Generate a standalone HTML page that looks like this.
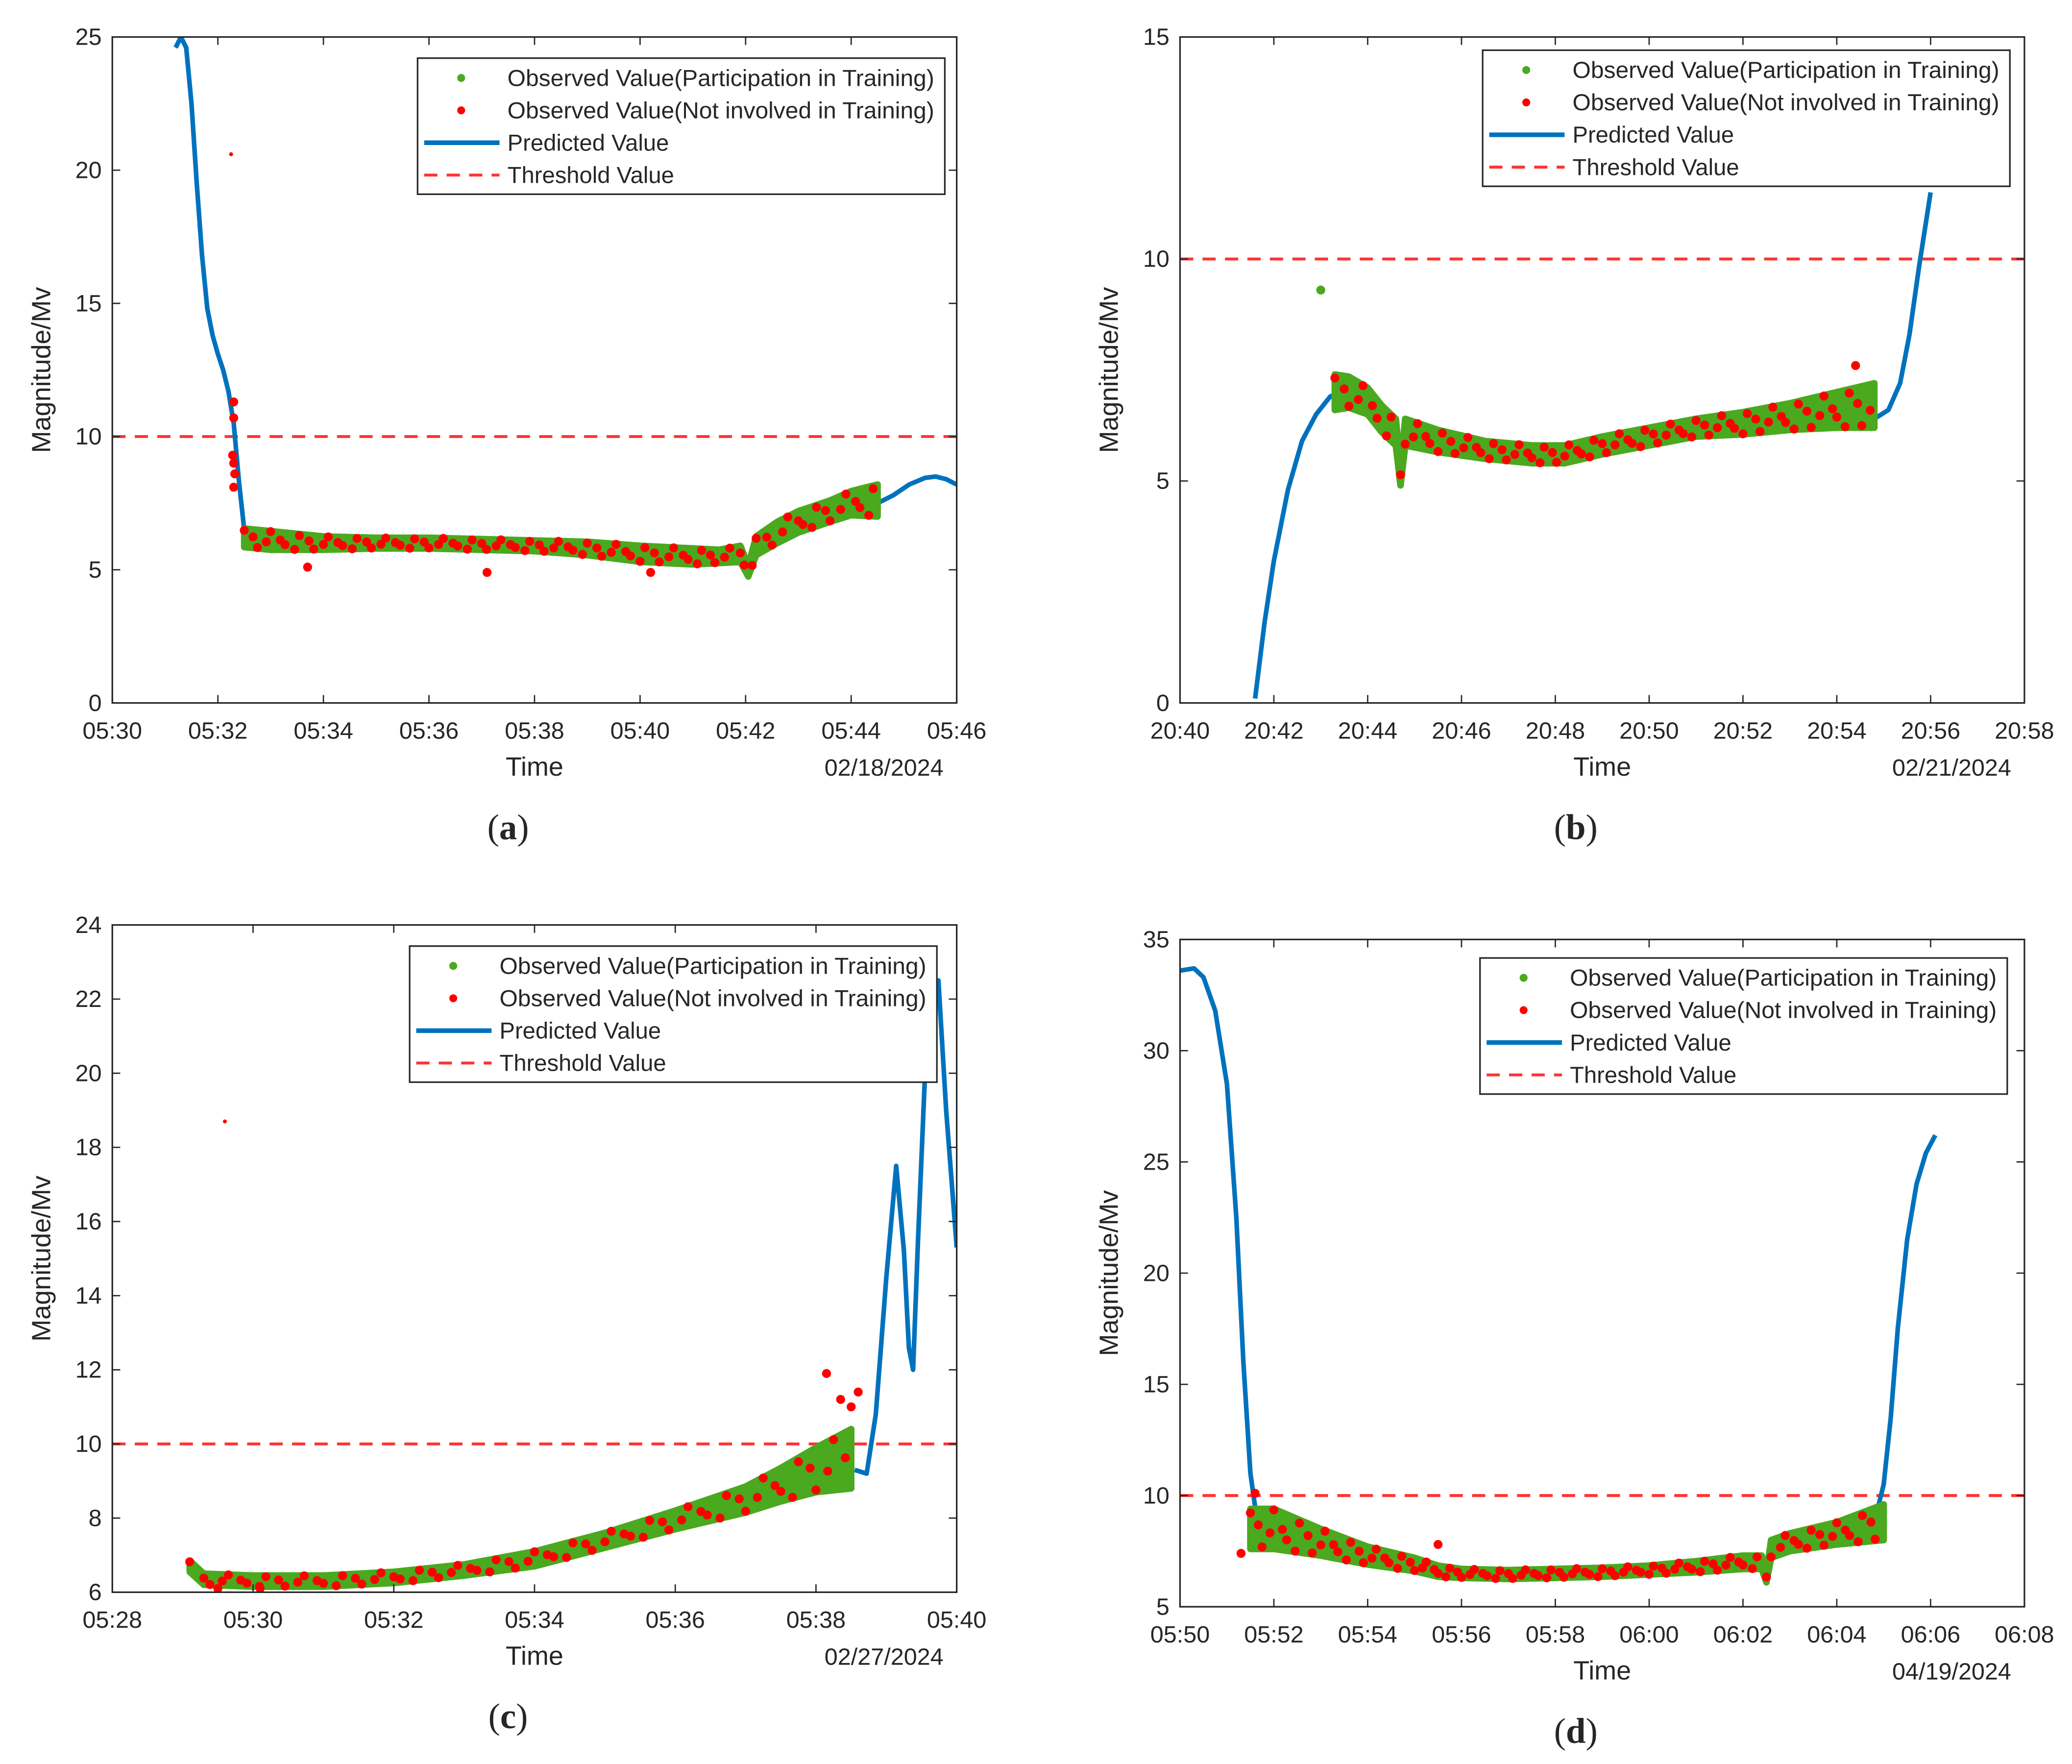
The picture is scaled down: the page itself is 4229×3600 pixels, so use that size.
<!DOCTYPE html>
<html><head><meta charset="utf-8"><style>
html,body{margin:0;padding:0;background:#fff;}
svg{display:block;}
text{font-family:"Liberation Sans",sans-serif;fill:#262626;}
</style></head>
<body>
<svg id="fig" width="4229" height="3600" viewBox="0 0 1568 1335" preserveAspectRatio="none" xmlns="http://www.w3.org/2000/svg"></svg>
<script>
// ---------- DATA ----------
// Panel (a)
const aYTicks=[0,5,10,15,20,25];
const aXTickLabels=["05:30","05:32","05:34","05:36","05:38","05:40","05:42","05:44","05:46"];
const aPredT=[1.2,1.3,1.4,1.5,1.6,1.7,1.8,1.9,2.0,2.1,2.2,2.3,2.4,2.5,2.6];
const aPredV=[24.6,25,24.6,22.5,19.5,16.8,14.8,13.8,13.1,12.5,11.7,10.5,8.3,6.5,6.0];
const aPred2T=[14.5,14.8,15.1,15.4,15.6,15.8,16.0];
const aPred2V=[7.5,7.8,8.2,8.45,8.5,8.4,8.2];
const aObsT=[2.5,3,4,5,6,7,8,9,10,11,11.5,11.9,12.05,12.2,12.6,13,13.6,14,14.5];
const aObsV=[6.2,6.1,6.0,6.0,6.0,5.95,5.9,5.8,5.6,5.5,5.5,5.6,4.95,5.9,6.4,6.8,7.2,7.5,7.6];
const aObsW=[0.35,0.35,0.25,0.2,0.2,0.2,0.2,0.25,0.3,0.3,0.25,0.3,0.2,0.35,0.4,0.4,0.4,0.45,0.6];
const aOutT=[2.25,3.7,7.1,10.2,2.3,2.3,2.3,2.32,2.28,2.3];
const aOutV=[20.6,5.1,4.9,4.9,11.3,8.1,9.0,8.6,9.3,10.7];
// Panel (b)
const bYTicks=[0,5,10,15];
const bXTickLabels=["20:40","20:42","20:44","20:46","20:48","20:50","20:52","20:54","20:56","20:58"];
const bPredT=[1.6,1.8,2.0,2.3,2.6,2.9,3.2,3.4];
const bPredV=[0.1,1.8,3.2,4.8,5.9,6.5,6.9,7.0];
const bPred2T=[14.8,15.1,15.35,15.55,15.75,16.0];
const bPred2V=[6.4,6.6,7.2,8.3,9.8,11.5];
const bObsT=[3.3,3.6,4.0,4.3,4.6,4.7,4.8,5.5,6.5,7.5,8.2,9,10,11,12,13,14,14.8];
const bObsV=[7.0,7.0,6.8,6.4,6.1,5.1,6.1,5.9,5.7,5.6,5.6,5.8,6.0,6.2,6.3,6.45,6.6,6.7];
const bObsW=[0.4,0.35,0.3,0.3,0.3,0.2,0.3,0.25,0.2,0.2,0.2,0.2,0.2,0.2,0.25,0.3,0.4,0.5];
const bOutT=[3.0,14.4];
const bOutV=[9.3,7.6];
// Panel (c)
const cYTicks=[6,8,10,12,14,16,18,20,22,24];
const cXTickLabels=["05:28","05:30","05:32","05:34","05:36","05:38","05:40"];
const cPredT=[1.1,1.3];
const cPredV=[6.8,6.4];
const cPred2T=[10.55,10.72,10.85,11.0,11.14,11.25,11.32,11.38,11.45,11.55,11.65,11.74,11.85,12.0];
const cPred2V=[9.3,9.2,10.8,14.5,17.5,15.2,12.6,12.0,15.5,20.0,22.0,22.5,19.0,15.3];
const cObsT=[1.1,1.3,2,3,4,5,6,7,8,9,9.5,10,10.5];
const cObsV=[6.7,6.35,6.3,6.3,6.4,6.6,6.9,7.4,7.95,8.5,8.9,9.3,9.6];
const cObsW=[0.15,0.15,0.15,0.15,0.15,0.15,0.2,0.2,0.25,0.35,0.45,0.6,0.8];
const cOutT=[1.6,2.1,1.5,10.15,10.35,10.6,10.5];
const cOutV=[18.7,6.1,6.1,11.9,11.2,11.4,11.0];
// Panel (d)
const dYTicks=[5,10,15,20,25,30,35];
const dXTickLabels=["05:50","05:52","05:54","05:56","05:58","06:00","06:02","06:04","06:06","06:08"];
const dPredT=[0,0.3,0.5,0.75,1.0,1.2,1.35,1.5,1.6];
const dPredV=[33.6,33.7,33.3,31.8,28.5,22.5,16,11,9.5];
const dPred2T=[14.8,15.0,15.15,15.3,15.5,15.7,15.9,16.1];
const dPred2V=[8.8,10.5,13.5,17.5,21.5,24,25.4,26.2];
const dObsT=[1.5,2,3,4,5,5.5,6,7,8,9,10,11,12,12.4,12.5,12.6,13,14,15];
const dObsV=[8.5,8.5,7.9,7.3,6.9,6.6,6.5,6.45,6.5,6.55,6.65,6.8,7.0,7.0,6.3,7.6,7.9,8.3,8.8];
const dObsW=[0.9,0.9,0.6,0.4,0.3,0.25,0.2,0.2,0.2,0.2,0.2,0.25,0.3,0.3,0.2,0.4,0.4,0.5,0.8];
const dOutT=[1.3,5.5,1.6];
const dOutV=[7.4,7.8,10.1];
// deterministic jitter pattern for red markers (fraction of band half-width)
const jitter=[0.8,-0.6,0.2,-0.9,0.5,-0.2,0.95,-0.75,0.1,-0.4,0.65,-0.95];

// ---------- DRAW ----------
const NS="http://www.w3.org/2000/svg";
const svg=document.getElementById('fig');
function el(tag,attrs,parent,txt){const e=document.createElementNS(NS,tag);for(const k in attrs)e.setAttribute(k,attrs[k]);if(txt!==undefined)e.textContent=txt;(parent||svg).appendChild(e);return e;}

function panel(cfg){
  const g=el('g',{});
  
  
  const {x0,x1,y0,y1,ymin,ymax,xmax}=cfg;
  const X=t=>x0+(t/xmax)*(x1-x0);
  const Y=v=>y1-(v-ymin)/(ymax-ymin)*(y1-y0);
  const clip='clip-'+cfg.id;
  const cp=el('clipPath',{id:clip},g);el('rect',{x:x0,y:y0,width:x1-x0,height:y1-y0},cp);
  const plot=el('g',{'clip-path':'url(#'+clip+')'},g);
  const th=el('line',{x1:x0,x2:x1,y1:Y(10),y2:Y(10),stroke:'#ff3333',"stroke-width":2.2,"stroke-dasharray":"10,7"},plot);
  
  
  function predLine(T,V){
    const p=el('polyline',{points:T.map((t,i)=>X(t)+','+Y(V[i])).join(' '),fill:'none',stroke:'#0072bd',"stroke-width":3.5,"stroke-linejoin":"round"},plot);
    
    
  }
  predLine(cfg.pT,cfg.pV);
  if(cfg.p2T)predLine(cfg.p2T,cfg.p2V);
  const gg=el('g',{},plot);
  
  
  const oT=cfg.oT,oV=cfg.oV,oW=cfg.oW;
  const up=oT.map((t,i)=>X(t)+','+Y(oV[i]+oW[i]));
  const dn=oT.map((t,i)=>X(t)+','+Y(oV[i]-oW[i])).reverse();
  el('polygon',{points:up.concat(dn).join(' '),fill:'#4aa91f',stroke:'#4aa91f',"stroke-width":5,"stroke-linejoin":"round"},gg);
  const rg=el('g',{},plot);
  
  
  let k=0;
  for(let i=0;i<oT.length-1;i++){
    const n=Math.max(1,Math.round((oT[i+1]-oT[i])/0.09));
    for(let j=0;j<n;j++){
      const f=j/n,t=oT[i]+(oT[i+1]-oT[i])*f,v=oV[i]+(oV[i+1]-oV[i])*f,w=oW[i]+(oW[i+1]-oW[i])*f;
      const jj=jitter[k%jitter.length];k++;
      if(k%3===2)continue;
      el('circle',{cx:X(t),cy:Y(v+jj*w),r:3.4,fill:'#ff0000'},rg);
    }
  }
  cfg.outT.forEach((t,i)=>{
    el('circle',{cx:X(t),cy:Y(cfg.outV[i]),r:(cfg.outV[i]>15?1.5:3.4),fill:cfg.outG&&i===0?'#4aa91f':'#ff0000'},rg);
  });
  el('rect',{x:x0,y:y0,width:x1-x0,height:y1-y0,fill:'none',stroke:'#262626',"stroke-width":1.2},g);
  cfg.yTicks.forEach(v=>{
    el('line',{x1:x0,x2:x0+6,y1:Y(v),y2:Y(v),stroke:'#262626'},g);
    el('line',{x1:x1,x2:x1-6,y1:Y(v),y2:Y(v),stroke:'#262626'},g);
    const t=el('text',{x:x0-8,y:Y(v)+6,"text-anchor":"end","font-size":18},g,String(v));
    
    
  });
  const nx=cfg.xLabels.length-1;
  cfg.xLabels.forEach((s,i)=>{
    const xx=x0+(x1-x0)*i/nx;
    el('line',{x1:xx,x2:xx,y1:y1,y2:y1-6,stroke:'#262626'},g);
    el('line',{x1:xx,x2:xx,y1:y0,y2:y0+6,stroke:'#262626'},g);
    const t=el('text',{x:xx,y:y1+27,"text-anchor":"middle","font-size":18},g,s);
    
    
  });
  const xt=el('text',{x:(x0+x1)/2,y:y1+55,"text-anchor":"middle","font-size":20},g,'Time');
  
  
  const dt=el('text',{x:x1-10,y:y1+55,"text-anchor":"end","font-size":18},g,cfg.date);
  
  
  const yt=el('text',{x:0,y:0,"text-anchor":"middle","font-size":20,transform:`translate(${x0-47},${(y0+y1)/2}) rotate(-90)`},g,'Magnitude/Mv');
  
  
  const pl=el('text',{x:(x0+x1)/2-20,y:y1+103,"text-anchor":"middle","font-size":27,style:'font-family:"Liberation Serif",serif'},g);
  
  
  el('tspan',{},pl,'(');el('tspan',{"font-weight":"bold"},pl,cfg.id);el('tspan',{},pl,')');
  const L=cfg.leg;
  const lg=el('g',{},g);
  
  
  el('rect',{x:L[0],y:L[1],width:399,height:103,fill:'#fff',stroke:'#262626',"stroke-width":1.2},lg);
  const rows=['Observed Value(Participation in Training)','Observed Value(Not involved in Training)','Predicted Value','Threshold Value'];
  rows.forEach((s,i)=>{
    const cy=L[1]+15+i*24.5;
    if(i===0)el('circle',{cx:L[0]+33,cy:cy,r:3,fill:'#4aa91f'},lg);
    if(i===1)el('circle',{cx:L[0]+33,cy:cy,r:3,fill:'#ff0000'},lg);
    if(i===2)el('line',{x1:L[0]+5,x2:L[0]+62,y1:cy,y2:cy,stroke:'#0072bd',"stroke-width":3.5},lg);
    if(i===3)el('line',{x1:L[0]+5,x2:L[0]+62,y1:cy,y2:cy,stroke:'#ff3333',"stroke-width":2.2,"stroke-dasharray":"10,7"},lg);
    const t=el('text',{x:L[0]+68,y:cy+6,"font-size":17.5},lg,s);
    if(i<2){t.setAttribute('textLength','323');t.setAttribute('lengthAdjust','spacingAndGlyphs');}
    
    
  });
}

panel({id:'a',x0:85,x1:724,y0:28,y1:532,ymin:0,ymax:25,xmax:16,yTicks:aYTicks,xLabels:aXTickLabels,date:'02/18/2024',
  pT:aPredT,pV:aPredV,p2T:aPred2T,p2V:aPred2V,oT:aObsT,oV:aObsV,oW:aObsW,outT:aOutT,outV:aOutV,leg:[316,44]});
panel({id:'b',x0:893,x1:1532,y0:28,y1:532,ymin:0,ymax:15,xmax:18,yTicks:bYTicks,xLabels:bXTickLabels,date:'02/21/2024',
  pT:bPredT,pV:bPredV,p2T:bPred2T,p2V:bPred2V,oT:bObsT,oV:bObsV,oW:bObsW,outT:bOutT,outV:bOutV,outG:true,leg:[1122,38]});
panel({id:'c',x0:85,x1:724,y0:700,y1:1205,ymin:6,ymax:24,xmax:12,yTicks:cYTicks,xLabels:cXTickLabels,date:'02/27/2024',
  pT:cPredT,pV:cPredV,p2T:cPred2T,p2V:cPred2V,oT:cObsT,oV:cObsV,oW:cObsW,outT:cOutT,outV:cOutV,leg:[310,716]});
panel({id:'d',x0:893,x1:1532,y0:711,y1:1216,ymin:5,ymax:35,xmax:18,yTicks:dYTicks,xLabels:dXTickLabels,date:'04/19/2024',
  pT:dPredT,pV:dPredV,p2T:dPred2T,p2V:dPred2V,oT:dObsT,oV:dObsV,oW:dObsW,outT:dOutT,outV:dOutV,leg:[1120,725]});
</script>
</body></html>
